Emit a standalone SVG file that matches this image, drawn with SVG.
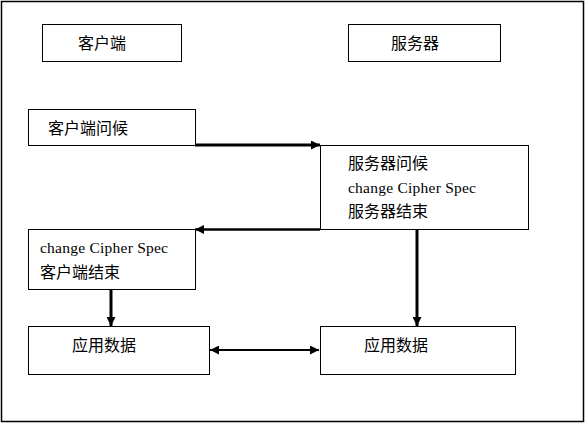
<svg xmlns="http://www.w3.org/2000/svg" width="585" height="423" viewBox="0 0 585 423">
<style>
.box{fill:#fff;stroke:#000;stroke-width:1}
.cjk{font-family:"Noto Sans CJK SC","Noto Sans CJK JP",sans-serif;font-size:16px;fill:#000}
.lat{font-family:"Liberation Serif",serif;font-size:15.5px;fill:#000}
.conn{stroke:#000;fill:none}
</style>
<defs>
<marker id="ah" viewBox="0 0 10 10" refX="10" refY="5" markerWidth="9" markerHeight="9" markerUnits="userSpaceOnUse" orient="auto-start-reverse">
<path d="M0,0 L10,5 L0,10 z" fill="#000"/>
</marker>
</defs>
<rect x="1.5" y="1.5" width="582" height="420" fill="#fff" stroke="#000" stroke-width="1.5"/>
<g id="connectors">
<polyline class="conn" stroke-width="3" points="195,145 320,145" marker-end="url(#ah)"/>
<polyline class="conn" stroke-width="2.5" points="320,229.5 195,229.5" marker-end="url(#ah)"/>
<line class="conn" stroke-width="3" x1="111" y1="289" x2="111" y2="326" marker-end="url(#ah)"/>
<line class="conn" stroke-width="3" x1="417" y1="229" x2="417" y2="326" marker-end="url(#ah)"/>
<line class="conn" stroke-width="2" x1="210" y1="350" x2="319" y2="350" marker-start="url(#ah)" marker-end="url(#ah)"/>
</g>
<g id="client">
<rect class="box" x="42.5" y="24.5" width="139" height="37"/>
<text class="cjk" x="78" y="49">客户端</text>
</g>
<g id="server">
<rect class="box" x="348.5" y="24.5" width="152" height="37"/>
<text class="cjk" x="391" y="49">服务器</text>
</g>
<g id="client-hello">
<rect class="box" x="28.5" y="109.5" width="167" height="36"/>
<text class="cjk" x="48" y="134">客户端问候</text>
</g>
<g id="server-hello">
<rect class="box" x="320.5" y="145.5" width="208" height="84"/>
<text class="cjk" x="348" y="169">服务器问候</text>
<text class="lat" x="348" y="193" textLength="128">change Cipher Spec</text>
<text class="cjk" x="348" y="217">服务器结束</text>
</g>
<g id="client-finish">
<rect class="box" x="28.5" y="229.5" width="167" height="60"/>
<text class="lat" x="40" y="253" textLength="128">change Cipher Spec</text>
<text class="cjk" x="40" y="278">客户端结束</text>
</g>
<g id="client-data">
<rect class="box" x="28.5" y="326.5" width="181" height="48"/>
<text class="cjk" x="72" y="351">应用数据</text>
</g>
<g id="server-data">
<rect class="box" x="320.5" y="326.5" width="195" height="48"/>
<text class="cjk" x="364" y="351">应用数据</text>
</g>
</svg>
